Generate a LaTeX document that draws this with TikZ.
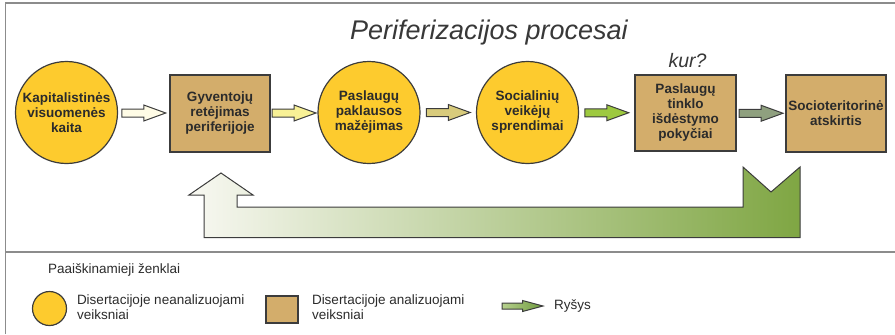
\documentclass[tikz,border=0pt]{standalone}
\usepackage{fontspec}
\setmainfont{Liberation Sans}
\usetikzlibrary{calc}
\definecolor{frameg}{HTML}{8C8C8C}
\definecolor{strokeg}{HTML}{3C3C3C}
\definecolor{txtg}{HTML}{2B2B2B}
\definecolor{titleg}{HTML}{383838}
\definecolor{yel}{HTML}{FDCB2E}
\definecolor{tan}{HTML}{D3AD6B}
\definecolor{aone}{HTML}{FFFCE6}
\definecolor{atwo}{HTML}{F8F196}
\definecolor{athree}{HTML}{D8CB7C}
\definecolor{afour}{HTML}{9DC93F}
\definecolor{afive}{HTML}{8FA07F}
\definecolor{fbl}{HTML}{F8F8F2}
\definecolor{fbr}{HTML}{7FA643}
\definecolor{lgl}{HTML}{B7D18E}
\definecolor{lgr}{HTML}{6E9A3C}
\begin{document}
\begin{tikzpicture}[x=1bp,y=-1bp,
  every node/.style={inner sep=0pt,outer sep=0pt},
  nodetext/.style={font=\fontsize{13.5bp}{15bp}\selectfont\bfseries,text=txtg,align=center},
  yelcirc/.style={nodetext,circle,draw=strokeg,line width=1.2bp,fill=yel,minimum size=102bp},
  tanbox/.style={nodetext,rectangle,draw=strokeg,line width=1.2bp,fill=tan,minimum width=100bp,minimum height=77bp},
  arrowline/.style={draw=strokeg,line width=1bp,line join=miter},
  legtext/.style={font=\fontsize{13.5bp}{15bp}\selectfont,text=txtg,align=left,anchor=west},
  frameline/.style={draw=frameg,line width=1.2bp},
  pics/barr/.style={code={\draw[arrowline,fill=#1] (-22,-4) -- (0,-4) -- (0,-8) -- (22,0) -- (0,8) -- (0,4) -- (-22,4) -- cycle;}},
  pics/barrsmall/.style={code={\draw[arrowline,left color=lgl,right color=lgr] (-20.5,-3) -- (0,-3) -- (0,-5.5) -- (20.5,0) -- (0,5.5) -- (0,3) -- (-20.5,3) -- cycle;}}
]
\useasboundingbox (0,0) rectangle (895,334);
% frame
\draw[frameline] (5.5,334) -- (5.5,3) -- (895,3);
\draw[frameline] (5.5,252) -- (895,252);
% title
\node[anchor=base,font=\fontsize{27bp}{30bp}\selectfont\itshape,text=titleg] (title) at (489,39) {Periferizacijos procesai};
\node[anchor=base,font=\fontsize{19.5bp}{22bp}\selectfont\itshape,text=titleg] (kur) at (687.5,67) {kur?};
% main nodes
\node[yelcirc] (c1) at (66.5,112.5) {Kapitalistinės\\visuomenės\\kaita};
\node[tanbox] (b1) at (220,113.5) {Gyventojų\\retėjimas\\periferijoje};
\node[yelcirc] (c2) at (369,112.5) {Paslaugų\\paklausos\\mažėjimas};
\node[yelcirc] (c3) at (527.5,112.5) {Socialinių\\veikėjų\\sprendimai};
\node[tanbox,minimum width=101bp,minimum height=76bp] (b2) at (685.5,113) {Paslaugų\\tinklo\\išdėstymo\\pokyčiai};
\node[tanbox] (b3) at (836,113.5) {Socioteritorinė\\atskirtis};
% connecting block arrows
\pic at ($(c1.east)!0.5!(b1.west)$) {barr=aone};
\pic at ($(b1.east)!0.5!(c2.west)$) {barr=atwo};
\pic at ($(c2.east)!0.5!(c3.west)$) {barr=athree};
\pic at ($(c3.east)!0.5!(b2.west)$) {barr=afour};
\pic at ($(b2.east)!0.5!(b3.west)$) {barr=afive};
% feedback arrow
\draw[arrowline,left color=fbl,right color=fbr]
  (221,173) -- (253,195) -- (237,195) -- (237,207) -- (743,207) -- (743,167)
  -- (771,192) -- (800,167) -- (800,237.5) -- (204,237.5) -- (204,195) -- (189,195) -- cycle;
% legend
\node[legtext] (legtitle) at (48,270) {Paaiškinamieji ženklai};
\node[circle,draw=strokeg,line width=1.2bp,fill=yel,minimum size=34bp] (lc) at (49.5,308.5) {};
\node[legtext] (lct) at (77,307.5) {Disertacijoje neanalizuojami\\veiksniai};
\node[rectangle,draw=strokeg,line width=1.2bp,fill=tan,minimum width=32bp,minimum height=27bp] (lb) at (282,309.5) {};
\node[legtext] (lbt) at (312,307.5) {Disertacijoje analizuojami\\veiksniai};
\pic at (522.5,306) {barrsmall};
\node[legtext] (lat) at (554,306) {Ryšys};
\end{tikzpicture}
\end{document}
